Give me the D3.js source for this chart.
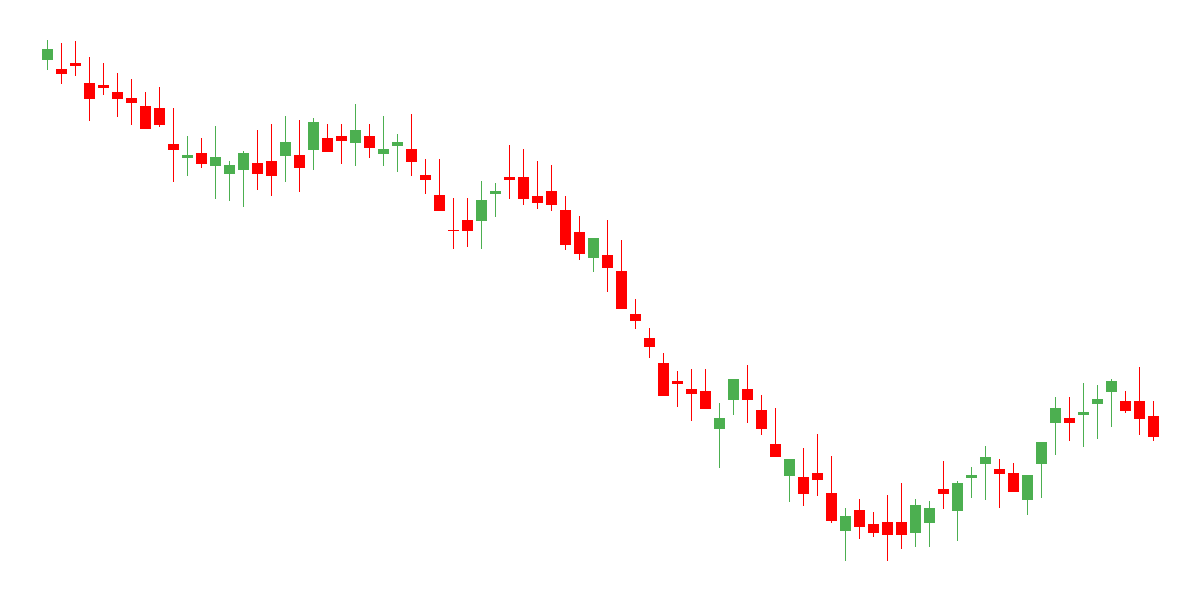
<!DOCTYPE html>
<html>
<head>
<meta charset="utf-8" />
<script src="https://cdn.jsdelivr.net/npm/d3@7/dist/d3.min.js"></script>
<style>
	body { margin: 0; background: #fff; }
	.wick { stroke-width: 1px; shape-rendering: crispEdges; }
	.body { shape-rendering: crispEdges; }
</style>
</head>
<body>
<script>
	var width = 1200;
	var height = 600;

	// price series, one entry per candle
	var open = [540.3,531,537.3,517,515,508,502,494,492,456,
		442.3,447,434.3,426.3,430.3,437,439,444.3,445,450.3,
		462,464,457.3,464,446.3,454.3,451,425,405,370,
		380,379.3,406.3,423,423,404,409,390,368,342.3,
		345,329,286,262,237,219,211,209,171.3,200.3,
		211,190,156,124.3,123,127,107,69.3,90,76,
		78,78,67.3,77.3,111,89.3,122.3,136.3,131,127,
		100.3,136.3,177.3,182,185.3,196.3,208.3,199,199,184];
	var high = [560,557,559,543,537,527,521,508,513,492,
		464,462,474,439,449,470,476,484,480,482,
		476,476,496,476,484,466,486,441,441,402,
		402,419,417,455,451,439,435,404,384,362,
		380,360,301,272,247,229,231,231,197,221,
		235,205,192,141,152,166,144,92,101,88,
		105,117,101,99,139,119,133,154,141,137,
		125,158,203,203,217,215,221,209,233,199];
	var low = [530.3,516.3,524.3,479.3,505.3,483.3,475.3,471.3,473.3,418.3,
		424.3,432.3,401.3,399.3,393.3,410.3,404.3,418.3,408.3,430.3,
		448.3,436.3,434.3,442.3,434.3,428.3,424.3,406.3,389.3,351.3,
		353.3,351.3,383.3,401.3,395.3,391.3,389.3,350.3,340.3,328.3,
		308.3,291.3,271.3,242.3,204.3,193.3,179.3,191.3,132.3,185.3,
		177.3,165.3,143.3,98.3,94.3,104.3,77.3,39.3,61.3,63.3,
		39.3,51.3,53.3,53.3,91.3,59.3,102.3,100.3,92.3,108.3,
		85.3,102.3,145.3,159.3,153.3,161.3,173.3,187.3,165.3,159.3];
	var close = [551,526.3,534.3,501.3,512.3,501.3,497.3,471.3,475.3,450.3,
		445,436.3,443,435,447,426.3,424.3,458,432.3,478,
		448.3,459.3,470,452.3,451,458,438.3,420.3,389.3,369.3,
		369.3,400,409,420.3,401.3,397.3,395.3,355.3,346.3,362,
		332.3,291.3,279.3,253.3,204.3,216.3,206.3,191.3,182,221,
		200.3,171.3,143.3,141,106.3,120.3,79.3,84,73.3,67.3,
		65.3,65.3,95,92,106.3,117,125,143,126.3,108.3,
		125,158,192,177.3,188,201,219,189.3,181.3,163.3];

	var upColor = "#4caf50";
	var downColor = "#ff0000";

	var candles = open.map(function(o, i) {
		return { i: i, o: o, h: high[i], l: low[i], c: close[i] };
	});

	var svg = d3.select("body")
				.append("svg")
				.attr("width", width)
				.attr("height", height);

	var x = d3.scaleBand()
		.domain(candles.map(function(d) { return d.i; }))
		.range([40.5, 1160.5])
		.paddingInner(3 / 14)
		.paddingOuter(1.5 / 14);

	var y = d3.scaleLinear()
		.domain([0, 600])
		.range([600, 0]);

	function color(d) { return d.c >= d.o ? upColor : downColor; }
	function mid(d) { return Math.floor(x(d.i) + x.bandwidth() / 2) + 0.5; }

	var g = svg.selectAll("g.candle")
		.data(candles)
		.enter().append("g")
		.attr("class", "candle");

	g.append("line")
		.attr("class", "wick")
		.attr("x1", mid)
		.attr("x2", mid)
		.attr("y1", function(d) { return y(d.h); })
		.attr("y2", function(d) { return y(d.l); })
		.attr("stroke", color);

	g.append("rect")
		.attr("class", "body")
		.attr("x", function(d) { return Math.round(x(d.i)); })
		.attr("width", Math.round(x.bandwidth()))
		.attr("y", function(d) { return y(Math.max(d.o, d.c)); })
		.attr("height", function(d) { return Math.max(1, Math.abs(y(d.o) - y(d.c))); })
		.attr("fill", color);
</script>
</body>
</html>
